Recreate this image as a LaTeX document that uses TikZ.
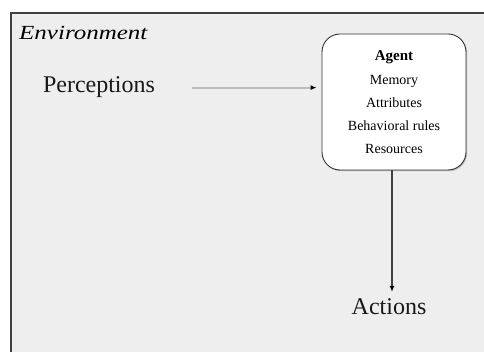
\documentclass[tikz,border=0pt]{standalone}
\usepackage{fontspec}
\setmainfont{Liberation Serif}
\usetikzlibrary{arrows.meta,shadows}
\definecolor{envfill}{HTML}{EEEEEE}
\definecolor{envline}{HTML}{404040}
\definecolor{lightline}{HTML}{BDBDBD}
\begin{document}
\begin{tikzpicture}[x=1pt,y=-1pt,
  bigtext/.style={inner sep=0pt,font=\fontsize{24}{28}\selectfont,text=black!90},
  agentbox/.style={draw=black!80,line width=0.9pt,fill=white,rounded corners=18pt,
    minimum width=144pt,minimum height=136pt,align=center,
    font=\fontsize{14}{23}\selectfont,
    drop shadow={shadow xshift=1.2pt,shadow yshift=-1.2pt,opacity=0.45}},
  tip/.style={-{Latex[length=6pt,width=5pt,color=black]}}]
\useasboundingbox (0,0) rectangle (484,352);
\path[fill=envfill,draw=envline,line width=1.6pt] (11,13) rectangle (500,370);
\node[anchor=base west,inner sep=0pt] (env) at (19,40)
  {\scalebox{1.25}[1]{\fontsize{20}{24}\selectfont\itshape Environment}};
\node[bigtext,anchor=base] (perc) at (99,93) {Perceptions};
\node[agentbox] (agent) at (394,102)
  {{\fontsize{15}{18}\selectfont\bfseries Agent}\\[1pt]Memory\\Attributes\\Behavioral rules\\Resources};
\node[bigtext,anchor=base] (act) at (389,314) {Actions};
\draw[tip,draw=lightline,line width=2.2pt,shorten <=37pt,shorten >=5pt] (perc.east) -- (agent.west |- perc.east);
\draw[tip,draw=envline,line width=1.2pt,shorten >=6pt] ([xshift=-2pt]agent.south) -- ([xshift=-2pt]agent.south |- act.north);
\end{tikzpicture}
\end{document}
